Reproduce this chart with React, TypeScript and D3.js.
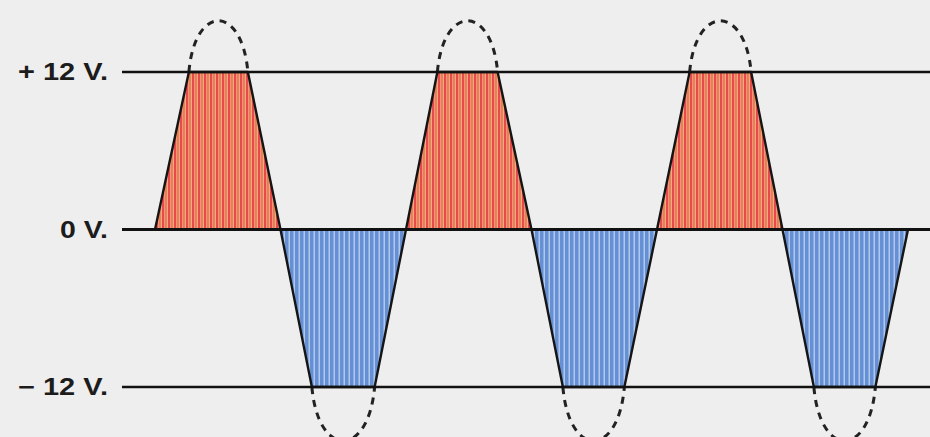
import React from 'react';
import * as d3 from 'd3';

// Voltage reference levels and their labels
const levelValues = [12, 0, -12];
const levelLabels = ['+ 12 V.', '0 V.', '\u2212 12 V.'];

// Clipped pulses (time in ms, volts)
const pulseStart = [0, 10, 20, 30, 40, 50];
const pulseRiseEnd = [2.7, 12.5, 22.5, 32.5, 42.6, 52.5];
const pulseFallStart = [7.4, 17.5, 27.3, 37.4, 47.5, 57.4];
const pulseEnd = [10, 20, 30, 40, 50, 60];
const pulseLevel = [12, -12, 12, -12, 12, -12];
// Unclipped peak that the dashed outline reaches
const unclippedPeak = [15.9, -16.1, 15.9, -16.1, 15.9, -16.1];

const W = 930;
const H = 437;

export default function App() {
  const x = d3.scaleLinear().domain([0, 60]).range([155, 908]);
  const y = d3.scaleLinear().domain([-12, 12]).range([387, 72]);
  const line = d3.line<[number, number]>().x((d) => x(d[0])).y((d) => y(d[1]));

  const pulses = pulseStart.map((s, i) => {
    const pts: [number, number][] = [
      [s, 0],
      [pulseRiseEnd[i], pulseLevel[i]],
      [pulseFallStart[i], pulseLevel[i]],
      [pulseEnd[i], 0],
    ];
    return { d: line(pts) + 'Z', pos: pulseLevel[i] > 0, i };
  });

  const arcs = pulseStart.map((_, i) => {
    const x0 = x(pulseRiseEnd[i]);
    const x1 = x(pulseFallStart[i]);
    const y0 = y(pulseLevel[i]);
    const yp = y(unclippedPeak[i]);
    const w = x1 - x0;
    const k = (yp - y0) * 4 / 3;
    const p = d3.path();
    p.moveTo(x0, y0);
    p.bezierCurveTo(x0 + 0.1 * w, y0 + k, x1 - 0.1 * w, y0 + k, x1, y0);
    return p.toString();
  });

  return (
    <svg width={W} height={H} style={{ position: 'absolute', left: 0, top: 0 }}>
      <defs>
        <pattern id="redStripes" patternUnits="userSpaceOnUse" width={6} height={10}>
          <rect width={6} height={10} fill="#e64a4a" />
          <rect x={2.4} width={0.8} height={10} fill="#f6c3ae" />
          <rect x={3.2} width={2.1} height={10} fill="#ec8445" />
          <rect x={5.3} width={0.7} height={10} fill="#f7c9b0" />
        </pattern>
        <pattern id="blueStripes" patternUnits="userSpaceOnUse" width={5} height={10}>
          <rect width={5} height={10} fill="#6690d6" />
          <rect x={3.6} width={1.2} height={10} fill="#c3d6f1" />
        </pattern>
      </defs>
      <rect width={W} height={H} fill="#efeeee" />

      {pulses.map((p) => (
        <path
          key={p.i}
          d={p.d}
          fill={p.pos ? 'url(#redStripes)' : 'url(#blueStripes)'}
          stroke="#151515"
          strokeWidth={2.4}
          strokeLinejoin="round"
        />
      ))}

      {arcs.map((d, i) => (
        <path
          key={i}
          d={d}
          fill="none"
          stroke="#222"
          strokeWidth={3}
          strokeDasharray="7 6"
        />
      ))}

      {levelValues.map((v, i) => (
        <g key={v}>
          <line x1={122} x2={W} y1={y(v)} y2={y(v)} stroke="#111" strokeWidth={v === 0 ? 3 : 2.5} />
          <text
            x={108}
            y={y(v) + 8}
            textAnchor="end"
            fontFamily="'Liberation Sans', Arial, sans-serif"
            fontWeight="bold"
            fontSize={23}
            fill="#1c1c1c"
            textLength={v === 0 ? 48 : 90}
            lengthAdjust="spacingAndGlyphs"
          >
            {levelLabels[i]}
          </text>
        </g>
      ))}
    </svg>
  );
}
